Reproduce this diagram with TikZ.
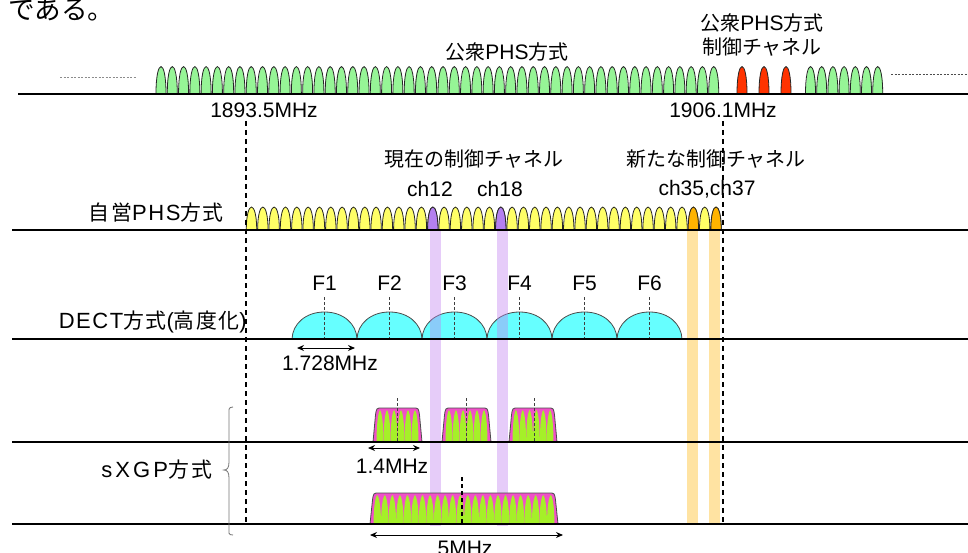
\documentclass[tikz,border=0pt]{standalone}
\usepackage{fontspec}
\setmainfont{Liberation Sans}
\newfontfamily\jp[Scale=0.95]{Noto Sans CJK JP}
\newfontfamily\jpA[Scale=0.95,LetterSpace=7]{Noto Sans CJK JP}
\newfontfamily\laA[LetterSpace=7]{Liberation Sans}
\newfontfamily\jpB[Scale=0.95,LetterSpace=14]{Noto Sans CJK JP}
\newfontfamily\laB[LetterSpace=14]{Liberation Sans}
\usetikzlibrary{arrows.meta}
\definecolor{pgreen}{RGB}{150,245,150}
\definecolor{pred}{RGB}{255,51,0}
\definecolor{pyellow}{RGB}{255,255,102}
\definecolor{ppurple}{RGB}{180,128,240}
\definecolor{porange}{RGB}{255,179,0}
\definecolor{dcyan}{RGB}{102,255,255}
\definecolor{spink}{RGB}{240,80,200}
\definecolor{sgreen}{RGB}{165,240,40}
\definecolor{barpurple}{RGB}{192,128,240}
\definecolor{barorange}{RGB}{255,192,48}

\newcommand\pk[5]{% color, cx, base, height, halfwidth
  \draw[peak,fill=#1] ({#2-#5},{#3}) .. controls ({#2-#5},{#3-1.33*#4}) and ({#2+#5},{#3-1.33*#4}) .. ({#2+#5},{#3});}

\newcommand\sxgp[5]{% x0 x1 top base n
  \fill[spink] (#1,#4) -- ({#1+2.5},{#3+7}) .. controls ({#1+3.5},#3) .. ({#1+9},#3) -- ({#2-9},#3) .. controls ({#2-3.5},#3) .. ({#2-2.5},{#3+7}) -- (#2,#4) -- cycle;
  \begin{scope}
    \clip (#1,#4) -- ({#1+2.5},{#3+7}) .. controls ({#1+3.5},#3) .. ({#1+9},#3) -- ({#2-9},#3) .. controls ({#2-3.5},#3) .. ({#2-2.5},{#3+7}) -- (#2,#4) -- cycle;
    \pgfmathsetmacro\pw{(#2-#1-7)/#5}
    \foreach \j in {1,...,#5}{
      \pgfmathsetmacro\spa{#1+3.5+(\j-1)*\pw}
      \fill[sgreen] ({\spa},{#4+1}) .. controls ({\spa+0.02*\pw},{#4-0.75*(#4-#3)}) and ({\spa+0.38*\pw},{#3+3}) .. ({\spa+0.5*\pw},{#3+2}) .. controls ({\spa+0.62*\pw},{#3+3}) and ({\spa+0.98*\pw},{#4-0.75*(#4-#3)}) .. ({\spa+\pw},{#4+1}) -- cycle;
    }
  \end{scope}
  \draw[sedge] (#1,#4) -- ({#1+2.5},{#3+7}) .. controls ({#1+3.5},#3) .. ({#1+9},#3) -- ({#2-9},#3) .. controls ({#2-3.5},#3) .. ({#2-2.5},{#3+7}) -- (#2,#4);
}

\begin{document}
\begin{tikzpicture}[x=1pt,y=-1pt,
  peak/.style={draw=black!85,line width=0.8pt},
  sedge/.style={draw=black!70,line width=0.8pt},
  dome/.style={draw=black!70,line width=0.8pt,fill=dcyan},
  baseline/.style={line width=2.4pt,black},
  vdash/.style={line width=1.5pt,black,dash pattern=on 5pt off 4pt},
  cdash/.style={line width=0.7pt,black!75,dash pattern=on 2.5pt off 2.5pt},
  lbl/.style={font=\fontsize{21}{24}\selectfont,inner sep=0pt},
  sidelbl/.style={font=\fontsize{22}{24}\selectfont,inner sep=0pt,anchor=east},
  arr/.style={{Stealth[length=7pt,width=6pt]}-{Stealth[length=7pt,width=6pt]},line width=1pt}]
\useasboundingbox (0,0) rectangle (968,553);

% heading fragment
\node[anchor=west,inner sep=0pt,font=\jp\fontsize{28}{30}\selectfont] (t0) at (8,10) {である。};

% ---------- public PHS ----------
\draw[black!45,line width=0.8pt,dash pattern=on 2pt off 1.5pt] (60,77) -- (137,77);
\draw[black!70,line width=0.8pt,dash pattern=on 2pt off 1.5pt] (891,74) -- (968,74);
\foreach \i in {0,...,49}{\pgfmathsetmacro\cx{161+11.28*\i}\pk{pgreen}{\cx}{93.5}{27}{5}}
\foreach \cx in {742,764,786}{\pk{pred}{\cx}{93.5}{27}{5}}
\foreach \i in {0,...,6}{\pgfmathsetmacro\cx{810.5+11.2*\i}\pk{pgreen}{\cx}{93.5}{27}{5}}
\draw[baseline] (18,94) -- (968,94);
\node[lbl] (lPub) at (507,52) {{\jp 公衆}PHS{\jp 方式}};
\node[lbl,align=center] (lPubCtl) at (762,35) {{\jp 公衆}PHS{\jp 方式}\\{\jp 制御チャネル}};
\node[lbl] (f1893) at (264,110) {1893.5MHz};
\node[lbl] (f1906) at (723,110) {1906.1MHz};

% ---------- private PHS ----------
\foreach \i in {0,...,41}{\pgfmathsetmacro\cx{251.5+11.33*\i}\pk{pyellow}{\cx}{230}{23}{5.2}}
\foreach \i in {16,22}{\pgfmathsetmacro\cx{251.5+11.33*\i}\pk{ppurple}{\cx}{230}{23}{5.2}}
\foreach \i in {39,41}{\pgfmathsetmacro\cx{251.5+11.33*\i}\pk{porange}{\cx}{230}{23}{5.2}}
\node[sidelbl] (lPriv) at (224,213) {{\jpA 自営}{\laA PHS}{\jpA 方式}};
\node[lbl] (lCur) at (474,159) {\jp 現在の制御チャネル};
\node[lbl] (lch12) at (430,189) {ch12};
\node[lbl] (lch18) at (500,189) {ch18};
\node[lbl] (lNew) at (716,159) {\jp 新たな制御チャネル};
\node[lbl] (lch3537) at (707,189) {ch35,ch37};

% ---------- DECT ----------
\foreach \k/\nm in {0/F1,1/F2,2/F3,3/F4,4/F5,5/F6}{
  \pgfmathsetmacro\cx{324.5+65*\k}
  \draw[dome] ({\cx-32.5},339) .. controls ({\cx-32},324) and ({\cx-19},312) .. (\cx,312) .. controls ({\cx+19},312) and ({\cx+32},324) .. ({\cx+32.5},339) -- cycle;
  \draw[cdash] (\cx,297) -- (\cx,339);
  \node[lbl] (\nm) at (\cx,283) {\nm};
}
\node[sidelbl] (lDect) at (247,322) {{\laA DECT}{\jpA 方式}{\laA (}{\jpA 高度化}{\laA )}};

% ---------- channel bars ----------
\fill[barpurple,opacity=0.4] (430,230) rectangle (441,526);
\fill[barpurple,opacity=0.4] (497,230) rectangle (508,526);
\fill[barorange,opacity=0.45] (687,230) rectangle (698,524);
\fill[barorange,opacity=0.45] (709,230) rectangle (720,524);

% ---------- sXGP ----------
\sxgp{373}{422}{408}{442}{6}
\sxgp{442}{491}{408}{442}{6}
\sxgp{509}{557}{408}{442}{6}
\sxgp{370}{558}{493}{524}{24}
\foreach \cx in {397,466,534}{\draw[cdash] (\cx,398) -- (\cx,442);}
\draw[line width=1.3pt,black,dash pattern=on 4pt off 3pt] (462,477) -- (462,524);

% ---------- horizontal base lines ----------
\draw[baseline] (12,230) -- (968,230);
\draw[baseline] (12,339) -- (968,339);
\draw[baseline] (12,442) -- (968,442);
\draw[baseline] (12,524) -- (968,524);

% ---------- band edges ----------
\draw[vdash] (246,121) -- (246,524);
\draw[vdash] (723,121) -- (723,524);

% ---------- widths ----------
\coordinate (a1l) at (297,348); \coordinate (a1r) at (355,348);
\draw[arr] (a1l) -- (a1r);
\node[lbl] (l1728) at (330,363) {1.728MHz};
\coordinate (a2l) at (368,448); \coordinate (a2r) at (420,448);
\draw[arr] (a2l) -- (a2r);
\node[lbl] (l14) at (392,466) {1.4MHz};
\coordinate (a3l) at (370,535); \coordinate (a3r) at (563,535);
\draw[arr] (a3l) -- (a3r);
\node[lbl] (l5) at (465,548) {5MHz};

% ---------- sXGP brace ----------
\draw[black!55,line width=0.8pt] (233,407) .. controls (228,407) and (229,410) .. (229,415) -- (229,462) .. controls (229,468) and (227,470) .. (224,470) .. controls (227,470) and (229,472) .. (229,478) -- (229,528) .. controls (229,533) and (228,535) .. (233,535);
\node[sidelbl] (lSx) at (213,470) {{\laB sXGP}{\jpB 方式}};
\end{tikzpicture}
\end{document}
